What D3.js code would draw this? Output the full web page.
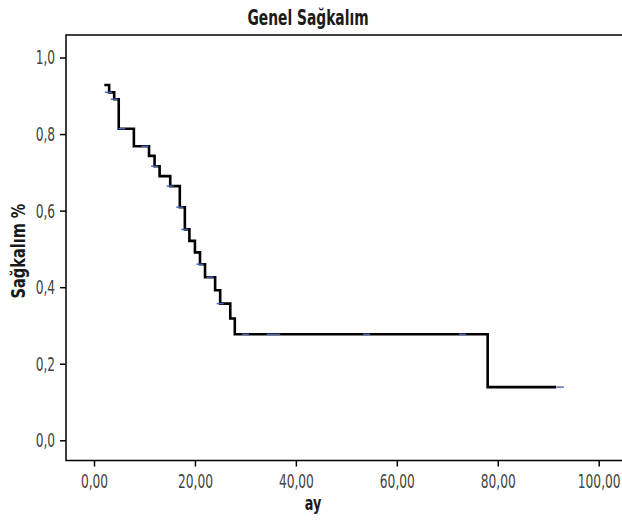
<!DOCTYPE html>
<html>
<head>
<meta charset="utf-8">
<script src="https://cdn.jsdelivr.net/npm/d3@7"></script>
<style>
  body { margin: 0; background: #fff; }
  text { font-family: "Liberation Sans Narrow", "DejaVu Sans Condensed", "Roboto", sans-serif; }
</style>
</head>
<body>
<svg id="chart"></svg>
<script>
// Kaplan-Meier steps
const eventTimes = [2.05, 3.0, 4.0, 4.9, 7.9, 10.9, 12.0, 13.0, 15.1, 17.0, 18.0, 18.9, 20.0, 21.0, 22.0, 24.0, 25.0, 27.0, 27.9, 78.0];
const survival = [0.928, 0.909, 0.891, 0.814, 0.768, 0.743, 0.716, 0.690, 0.664, 0.609, 0.551, 0.521, 0.491, 0.460, 0.426, 0.392, 0.357, 0.318, 0.277, 0.139];
const endTime = 91.6;

// censored cases (small blue marks)
const censorTimes = [2.85, 4.0, 5.5, 10.1, 12.0, 15.1, 17.0, 18.0, 21.0, 23.0, 25.0, 30.0, 34.9, 36.2, 54.0, 73.0, 92.4];
const censorSurv = [0.909, 0.891, 0.814, 0.768, 0.716, 0.664, 0.609, 0.551, 0.460, 0.426, 0.357, 0.277, 0.277, 0.277, 0.277, 0.277, 0.139];

const xTicks = [0, 20, 40, 60, 80, 100];
const yTicks = [0, 0.2, 0.4, 0.6, 0.8, 1.0];

const width = 622, height = 524;
const frame = { left: 66, top: 35, bottom: 460.5, right: 640 };
const squeeze = 0.68; // condensed look of the original font

const svg = d3.select('#chart')
  .attr('width', width)
  .attr('height', height);

const x = d3.scaleLinear().domain([0, 100]).range([94, 598.7]);
const y = d3.scaleLinear().domain([0, 1]).range([440.3, 57.5]);

// frame (open on the right, runs past the edge)
svg.append('path')
  .attr('fill', 'none')
  .attr('stroke', '#000')
  .attr('stroke-width', 1.5)
  .attr('d', `M${frame.right},${frame.top}H${frame.left}V${frame.bottom}H${frame.right}`);

const comma = (f) => (d) => d3.format(f)(d).replace('.', ',');

const xAxis = svg.append('g')
  .attr('transform', `translate(0,${frame.bottom})`)
  .call(d3.axisBottom(x).tickValues(xTicks).tickSize(6).tickPadding(7.5).tickFormat(comma('.2f')));

const yAxis = svg.append('g')
  .attr('transform', `translate(${frame.left},0)`)
  .call(d3.axisLeft(y).tickValues(yTicks).tickSize(6).tickPadding(10).tickFormat(comma('.1f')));

[xAxis, yAxis].forEach((g) => {
  g.select('.domain').remove();
  g.selectAll('.tick line').attr('stroke', '#000').attr('stroke-width', 1.5);
  g.selectAll('.tick text')
    .attr('fill', '#444')
    .style('font-size', '20px')
    .attr('transform', `scale(${squeeze},1)`);
});

// survival curve
const steps = eventTimes.map((t, i) => [t, survival[i]]);
steps.push([endTime, survival[survival.length - 1]]);

const line = d3.line()
  .x((d) => x(d[0]))
  .y((d) => y(d[1]))
  .curve(d3.curveStepAfter);

svg.append('path')
  .datum(steps)
  .attr('fill', 'none')
  .attr('stroke', '#000')
  .attr('stroke-width', 2.6)
  .attr('d', line);

// censor marks
svg.selectAll('.censor')
  .data(censorTimes)
  .enter().append('line')
    .classed('censor', true)
    .attr('x1', (d) => x(d) - 3.5)
    .attr('x2', (d) => x(d) + 3.5)
    .attr('y1', (d, i) => y(censorSurv[i]))
    .attr('y2', (d, i) => y(censorSurv[i]))
    .attr('stroke', '#4a63b5')
    .attr('stroke-width', 1.4);

// titles
svg.append('text')
  .attr('transform', 'translate(308,25) scale(0.7,1)')
  .attr('text-anchor', 'middle')
  .style('font-size', '22px')
  .style('font-weight', 'bold')
  .attr('fill', '#1a1a1a')
  .text('Genel Sağkalım');

svg.append('text')
  .attr('transform', 'translate(313,510) scale(0.75,1)')
  .attr('text-anchor', 'middle')
  .style('font-size', '19px')
  .style('font-weight', 'bold')
  .attr('fill', '#1a1a1a')
  .text('ay');

svg.append('text')
  .attr('transform', 'translate(25,251) rotate(-90) scale(0.85,1)')
  .attr('text-anchor', 'middle')
  .style('font-size', '19px')
  .style('font-weight', 'bold')
  .attr('fill', '#1a1a1a')
  .text('Sağkalım %');
</script>
</body>
</html>
